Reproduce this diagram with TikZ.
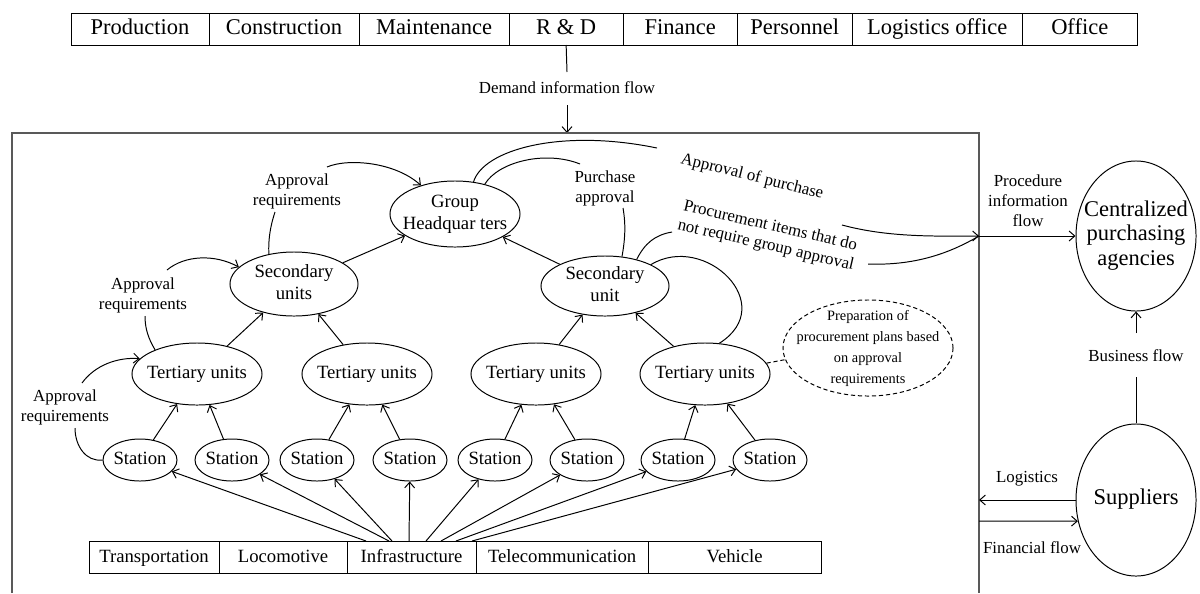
\documentclass[tikz,border=0pt]{standalone}
\usepackage{fontspec}
\setmainfont{Liberation Serif}
\usetikzlibrary{calc,arrows.meta,shapes.geometric,positioning}
% text of zero size, so that the ellipse keeps its given size
\newcommand{\zw}[1]{\makebox[0pt]{\vbox to 0pt{\vss\hbox{\begin{tabular}{@{}c@{}}#1\end{tabular}}\vss}}}
\tikzset{
  cell/.style={draw, rectangle, inner sep=0pt, outer sep=0pt, minimum height=0.8cm, text height=2.1ex, text depth=0.5ex, font=\fontsize{16}{18}\selectfont},
  bcell/.style={cell, font=\fontsize{13.3}{15.6}\selectfont},
  unit/.style={draw, ellipse, inner sep=0pt, font=\fontsize{13.3}{15.6}\selectfont},
  tert/.style={unit, minimum width=3.25cm, minimum height=1.55cm},
  stn/.style={unit, minimum width=1.85cm, minimum height=1.05cm},
  big/.style={draw, ellipse, inner sep=0pt, minimum width=3cm, font=\fontsize{16}{17.4}\selectfont},
  note/.style={draw, densely dashed, ellipse, inner sep=0pt, minimum width=4.25cm, minimum height=2.4cm, font=\fontsize{10.2}{14.9}\selectfont},
  lab/.style={inner sep=1pt, align=center, font=\fontsize{12}{14.2}\selectfont},
  arr/.style={-{Straight Barb[length=4pt,width=7pt]}},
  frame/.style={draw=black!65, line width=0.9pt}
}
\begin{document}
\begin{tikzpicture}[x=0.025cm, y=-0.025cm, line width=0.7pt]
  \useasboundingbox (0,0) rectangle (1200,593);

  % departments
  \node[cell, minimum width=3.45cm, anchor=west] (pro) at (71,29) {Production};
  \node[cell, minimum width=3.75cm, right=0pt of pro] (con) {Construction};
  \node[cell, minimum width=3.75cm, right=0pt of con] (mai) {Maintenance};
  \node[cell, minimum width=2.85cm, right=0pt of mai] (rd) {R \& D};
  \node[cell, minimum width=2.85cm, right=0pt of rd] (fin) {Finance};
  \node[cell, minimum width=2.875cm, right=0pt of fin] (per) {Personnel};
  \node[cell, minimum width=4.25cm, right=0pt of per] (lgo) {Logistics office};
  \node[cell, minimum width=2.875cm, right=0pt of lgo] (off) {Office};

  % demand flow into the frame
  \coordinate (dm1) at (567,72);
  \coordinate (dm2) at (567,105);
  \coordinate (dmin) at (567,133);
  \draw (rd.south) -- (dm1);
  \node[lab] (dml) at (567,88) {Demand information flow};
  \draw[arr] (dm2) -- (dmin);

  \draw[frame] (12,593) -- (12,133) -- (979,133) -- (979,593);

  % hierarchy
  \node[unit, minimum width=3.25cm, minimum height=1.65cm] (ghq) at (455,214) {\zw{Group\\Headquar ters}};
  \node[unit, minimum width=3.2cm, minimum height=1.6cm] (sec1) at (294,284) {\zw{Secondary\\units}};
  \node[unit, minimum width=3.2cm, minimum height=1.5cm] (sec2) at (605,286) {\zw{Secondary\\unit}};
  \node[tert] (t1) at (197,374) {\zw{Tertiary units}};
  \node[tert] (t2) at (367,374) {\zw{Tertiary units}};
  \node[tert] (t3) at (536,374) {\zw{Tertiary units}};
  \node[tert] (t4) at (705,374) {\zw{Tertiary units}};
  \foreach \i/\x in {1/140,2/232,3/317,4/410,5/495,6/587,7/678,8/770}
    \node[stn] (s\i) at (\x,460) {\zw{Station}};

  \node[note] (prep) at (868,348) {\zw{Preparation of\\procurement plans based\\on approval\\requirements}};

  % specialities
  \node[bcell, minimum width=3.25cm, anchor=west] (tra) at (89,557) {Transportation};
  \node[bcell, minimum width=3.2cm, right=0pt of tra] (loc) {Locomotive};
  \node[bcell, minimum width=3.225cm, right=0pt of loc] (inf) {Infrastructure};
  \node[bcell, minimum width=4.3cm, right=0pt of inf] (tel) {Telecommunication};
  \node[bcell, minimum width=4.325cm, right=0pt of tel] (veh) {Vehicle};

  \foreach \i/\x in {1/366,2/389,3/392,4/409,5/426,6/441,7/456,8/472} {
    \coordinate (f\i) at (\x,541);
    \draw[arr] (f\i) -- (s\i);
  }

  \draw[arr] (s1) -- (t1);
  \draw[arr] (s2) -- (t1);
  \draw[arr] (s3) -- (t2);
  \draw[arr] (s4) -- (t2);
  \draw[arr] (s5) -- (t3);
  \draw[arr] (s6) -- (t3);
  \draw[arr] (s7) -- (t4);
  \draw[arr] (s8) -- (t4);
  \draw[arr] (t1) -- (sec1);
  \draw[arr] (t2) -- (sec1);
  \draw[arr] (t3) -- (sec2);
  \draw[arr] (t4) -- (sec2);
  \draw[arr] (sec1) -- (ghq);
  \draw[arr] (sec2) -- (ghq);

  % approval requirements
  \node[lab] (ar1) at (65,407) {Approval\\requirements};
  \coordinate (ar1b) at (75,428);
  \coordinate (ar1t) at (82,383);
  \draw (s1.west) .. controls (86,462) and (75,446) .. (ar1b);
  \draw[arr] (ar1t) .. controls (95,365) and (118,357) .. (t1.165);

  \node[lab] (ar2) at (143,295) {Approval\\requirements};
  \coordinate (ar2b) at (145,316);
  \coordinate (ar2t) at (167,270);
  \draw (t1.150) .. controls (148,338) and (145,328) .. (ar2b);
  \draw[arr] (ar2t) .. controls (185,255) and (215,254) .. (sec1.163);

  \node[lab] (ar3) at (297,191) {Approval\\requirements};
  \coordinate (ar3b) at (275,212);
  \coordinate (ar3t) at (327,167);
  \draw (sec1.130) .. controls (268,238) and (271,224) .. (ar3b);
  \draw[arr] (ar3t) .. controls (348,158) and (395,162) .. (ghq.140);

  % purchase approval
  \node[lab] (pa) at (605,188) {Purchase\\approval};
  \coordinate (pat) at (580,164);
  \coordinate (pab) at (623,208);
  \draw (ghq.45) .. controls (498,162) and (545,150) .. (pat);
  \draw (pab) .. controls (626,225) and (625,240) .. (sec2.60);

  % flows to the centralized agencies
  \coordinate (pin) at (979,236);
  \node[lab, rotate=-14] (aopl) at (752,177) {Approval of purchase};
  \coordinate (aop1) at (657,148);
  \coordinate (aop2) at (842,225);
  \draw (ghq.60) .. controls (483,150) and (560,128) .. (aop1);
  \draw[arr] (aop2) .. controls (890,238) and (940,236) .. (pin);

  \node[lab, rotate=-13, font=\fontsize{12}{14}\selectfont] (pil) at (768,236) {Procurement items that do\\not require group approval};
  \coordinate (pi1) at (672,232);
  \coordinate (pi2) at (868,264);
  \draw (sec2.40) .. controls (645,243) and (655,235) .. (pi1);
  \draw (pi2) .. controls (920,266) and (955,250) .. (pin);

  \draw (sec2.25) .. controls (705,232) and (780,305) .. (t4.65);
  \draw[densely dashed] (t4.10) -- (prep.188);

  % outside parties
  \node[big, minimum height=3.75cm] (cpa) at (1136,236) {\zw{Centralized\\purchasing\\agencies}};
  \node[big, minimum height=3.8cm] (sup) at (1136,500) {\zw{Suppliers}};

  \node[lab] (pifl) at (1028,201) {Procedure\\information\\flow};
  \draw[arr] (pin) -- (cpa.west);

  \coordinate (bf1) at (1136,377);
  \coordinate (bf2) at (1136,333);
  \draw (sup.north) -- (bf1);
  \node[lab] (bfl) at (1136,356) {Business flow};
  \draw[arr] (bf2) -- (cpa.south);

  \coordinate (lgx) at (979,500);
  \coordinate (ffx) at (979,521);
  \node[lab] (lgl) at (1027,479) {Logistics};
  \draw[arr] (sup.west) -- (lgx);
  \draw[arr] (ffx) -- (sup.-160);
  \node[lab] (ffl) at (1032,548) {Financial flow};
\end{tikzpicture}
\end{document}
